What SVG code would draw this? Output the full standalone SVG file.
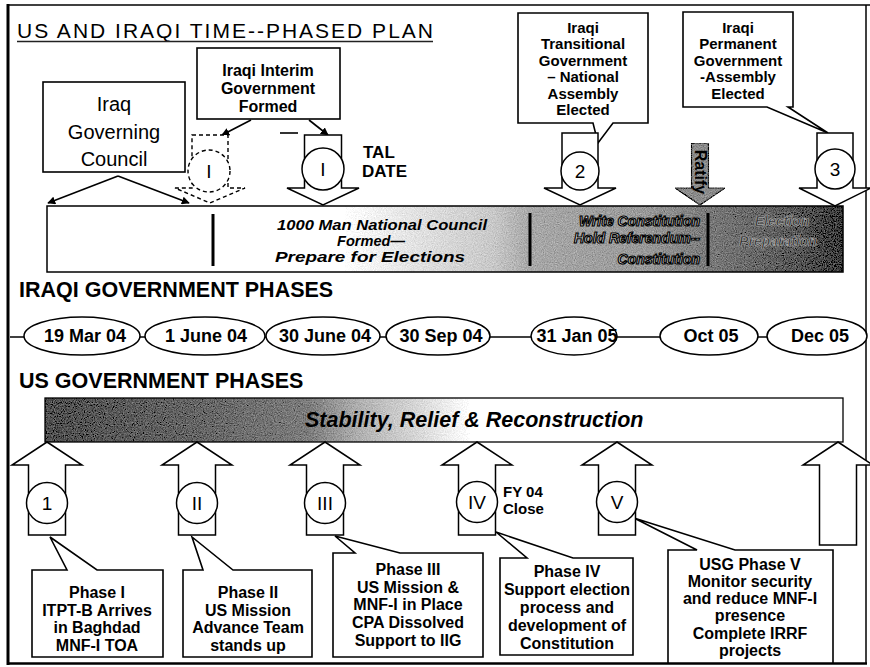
<svg xmlns="http://www.w3.org/2000/svg" width="870" height="667" viewBox="0 0 870 667">
  <defs>
    <style>
      text { font-family: "Liberation Sans", Arial, Helvetica, sans-serif; }
      .frame { fill: none; stroke: #000; }
      .box { fill: #fff; stroke: #000; stroke-width: 1.6; }
      .arr { fill: #fff; stroke: #000; stroke-width: 1.5; stroke-linejoin: miter; }
      .dash { fill: #fff; stroke: #000; stroke-width: 1.4; stroke-dasharray: 4 3; }
      .num { fill: #fff; stroke: #000; stroke-width: 1.5; }
      .numt { font-size: 19px; text-anchor: middle; fill: #000; }
      .lbl { font-size: 16px; font-weight: bold; text-anchor: middle; fill: #000; }
      .lbl15 { font-size: 15px; font-weight: bold; text-anchor: middle; fill: #000; }
      .side { font-weight: bold; text-anchor: start; fill: #000; }
      .head { font-size: 21.5px; font-weight: bold; fill: #000; }
      .date { font-size: 18px; font-weight: bold; text-anchor: middle; fill: #000; }
      .oval { fill: #fff; stroke: #000; stroke-width: 1.5; }
      .phase { font-size: 14px; font-weight: bold; font-style: italic; }
      .sep { stroke: #000; stroke-width: 3; }
      .conn { fill: none; stroke: #000; stroke-width: 1.6; }
    </style>
    <linearGradient id="iraqiGrad" x1="0" y1="0" x2="1" y2="0">
      <stop offset="0" stop-color="#ffffff"/>
      <stop offset="0.12" stop-color="#e6e6e6"/>
      <stop offset="0.3" stop-color="#c8c8c8"/>
      <stop offset="0.37" stop-color="#a8a8a8"/>
      <stop offset="0.6" stop-color="#9a9a9a"/>
      <stop offset="0.73" stop-color="#7a7a7a"/>
      <stop offset="0.9" stop-color="#5a5a5a"/>
      <stop offset="1" stop-color="#3a3a3a"/>
    </linearGradient>
    <linearGradient id="usGrad" x1="0" y1="0" x2="1" y2="0">
      <stop offset="0" stop-color="#505050"/>
      <stop offset="0.35" stop-color="#656565"/>
      <stop offset="0.62" stop-color="#7c7c7c"/>
      <stop offset="0.75" stop-color="#b4b4b4"/>
      <stop offset="0.88" stop-color="#d8d8d8"/>
      <stop offset="1" stop-color="#ffffff"/>
    </linearGradient>
    <filter id="grain" x="0" y="0" width="100%" height="100%">
      <feTurbulence type="fractalNoise" baseFrequency="0.9" numOctaves="2" seed="4" result="n"/>
      <feColorMatrix in="n" type="matrix" values="0.33 0.33 0.33 0 0  0.33 0.33 0.33 0 0  0.33 0.33 0.33 0 0  0 0 0 0 1" result="g"/>
      <feComposite in="SourceGraphic" in2="g" operator="arithmetic" k1="0" k2="1" k3="0.7" k4="-0.35" result="m"/>
      <feComposite in="m" in2="SourceGraphic" operator="in"/>
    </filter>
    <marker id="head" viewBox="0 0 10 10" refX="9" refY="5" markerWidth="8" markerHeight="8" markerUnits="userSpaceOnUse" orient="auto">
      <path d="M0,0 L10,5 L0,10 Z" fill="#000"/>
    </marker>
  </defs>

  <rect width="870" height="667" fill="#fff"/>

  <!-- outer frame -->
  <g id="frame">
    <line x1="8" y1="5" x2="870" y2="5" class="frame" stroke-width="1.5"/>
    <line x1="8" y1="4" x2="8" y2="665" class="frame" stroke-width="3"/>
    <line x1="866" y1="5" x2="866" y2="664" class="frame" stroke-width="1.5"/>
    <line x1="7" y1="663.5" x2="867" y2="663.5" class="frame" stroke-width="2.5"/>
  </g>

  <!-- headings -->
  <g id="title">
    <text x="17" y="38" font-size="21px" textLength="416" lengthAdjust="spacing">US AND IRAQI TIME--PHASED PLAN</text>
    <line x1="17" y1="41.5" x2="433" y2="41.5" stroke="#222" stroke-width="1.5"/>
  </g>
  <text id="iraqi-heading" class="head" x="19" y="297">IRAQI GOVERNMENT PHASES</text>
  <text id="us-heading" class="head" x="19" y="388">US GOVERNMENT PHASES</text>

  <!-- Iraqi phase bar -->
  <g id="iraqi-bar">
    <rect x="47" y="206" width="298" height="66" fill="#fff"/>
    <rect x="345" y="206" width="498" height="66" fill="url(#iraqiGrad)" filter="url(#grain)"/>
    <rect x="47" y="206" width="796" height="66" fill="none" stroke="#000" stroke-width="1.5"/>
    <line class="sep" x1="213" y1="214" x2="213" y2="266"/>
    <line class="sep" x1="530" y1="213" x2="530" y2="266"/>
    <line class="sep" x1="708" y1="213" x2="708" y2="266"/>
    <text class="phase" x="277" y="230" textLength="210" lengthAdjust="spacingAndGlyphs">1000 Man National Council</text>
    <text class="phase" x="337" y="246" textLength="68" lengthAdjust="spacingAndGlyphs">Formed—</text>
    <text class="phase" x="275" y="262" textLength="190" lengthAdjust="spacingAndGlyphs">Prepare for Elections</text>
    <g fill="#eeeeee" stroke="#000" stroke-width="1.2">
      <text class="phase" x="700" y="226" text-anchor="end" font-size="16px">Write Constitution</text>
      <text class="phase" x="700" y="243" text-anchor="end" font-size="16px">Hold Referendum--</text>
      <text class="phase" x="700" y="264" text-anchor="end" font-size="16px">Constitution</text>
    </g>
    <g fill="#2e2e2e" stroke="#a8a8a8" stroke-width="0.7">
      <text class="phase" x="782" y="226" text-anchor="middle" font-size="16px">Election</text>
      <text class="phase" x="778" y="246" text-anchor="middle" font-size="16px">Preparation</text>
    </g>
  </g>

  <!-- US phase bar -->
  <g id="us-bar">
    <rect x="45" y="398" width="425" height="44" fill="url(#usGrad)" filter="url(#grain)"/>
    <rect x="470" y="398" width="373" height="44" fill="#fff"/>
    <rect x="45" y="398" width="798" height="44" fill="none" stroke="#000" stroke-width="1.3"/>
    <text x="305" y="427" font-size="21.5px" font-weight="bold" font-style="italic">Stability, Relief &amp; Reconstruction</text>
  </g>

  <!-- connectors -->
  <g id="connectors">
    <line class="conn" x1="10" y1="337" x2="866" y2="337" stroke-width="2.5"/>
    <line class="conn" x1="118" y1="176" x2="48" y2="203" marker-end="url(#head)"/>
    <line class="conn" x1="118" y1="176" x2="189" y2="203" marker-end="url(#head)"/>
    <line class="conn" x1="251" y1="120" x2="222" y2="135" marker-end="url(#head)"/>
    <line class="conn" x1="309" y1="120" x2="328" y2="135" marker-end="url(#head)"/>
    <line class="conn" x1="280" y1="133" x2="298" y2="133"/>
  </g>

  <!-- top nodes -->
  <g id="node-governing-council">
    <rect class="box" x="43" y="82" width="142" height="90" stroke-width="2"/>
    <text x="114" y="111" font-size="20px" text-anchor="middle">Iraq</text>
    <text x="114" y="139" font-size="20px" text-anchor="middle">Governing</text>
    <text x="114" y="166" font-size="20px" text-anchor="middle">Council</text>
  </g>

  <g id="node-interim">
    <rect class="box" x="197" y="48" width="143" height="71" stroke-width="2"/>
    <text class="lbl" x="268" y="76" font-size="17px">Iraqi Interim</text>
    <text class="lbl" x="268" y="94" font-size="17px">Government</text>
    <text class="lbl" x="268" y="112" font-size="17px">Formed</text>
  </g>

  <g id="node-dashed-I">
    <polygon class="dash" points="192,135 228,135 228,188 245,188 210,203 175,188 192,188"/>
    <circle class="dash" cx="209" cy="171" r="21"/>
    <text class="numt" x="209" y="178">I</text>
  </g>

  <g id="node-tal">
    <polygon class="arr" points="304.5,135 341.5,135 341.5,188 359,188 323,205 287,188 304.5,188"/>
    <circle class="num" cx="323" cy="169" r="21"/>
    <text class="numt" x="323" y="176">I</text>
    <text class="side" x="363" y="158" font-size="17px">TAL</text>
    <text class="side" x="362" y="177" font-size="17px">DATE</text>
  </g>

  <g id="node-transitional">
    <path class="box" d="M518,13 H648 V123 H613 L598,143 L593,123 H518 Z"/>
    <text class="lbl15" x="583" y="33">Iraqi</text>
    <text class="lbl15" x="583" y="49">Transitional</text>
    <text class="lbl15" x="583" y="66">Government</text>
    <text class="lbl15" x="583" y="82">– National</text>
    <text class="lbl15" x="583" y="99">Assembly</text>
    <text class="lbl15" x="583" y="115">Elected</text>
  </g>
  <g id="node-2">
    <polygon class="arr" points="562,133 598,133 598,188 616,188 580,205 544,188 562,188"/>
    <circle class="num" cx="580" cy="171" r="19"/>
    <text class="numt" x="580" y="178">2</text>
  </g>

  <g id="node-ratify">
    <polygon points="691.5,143 708.5,143 708.5,188 725,188 700,205 675,188 691.5,188" fill="#8c8c8c" stroke="#222" stroke-width="1.2" filter="url(#grain)"/>
    <text x="0" y="0" font-size="16px" font-weight="bold" text-anchor="middle" fill="#000" transform="translate(694.5,172) rotate(90)">Ratify</text>
  </g>

  <g id="node-permanent">
    <path class="box" d="M683,12 H793 V107 H788 L828,133 L767,107 H683 Z"/>
    <text class="lbl15" x="738" y="33">Iraqi</text>
    <text class="lbl15" x="738" y="49">Permanent</text>
    <text class="lbl15" x="738" y="66">Government</text>
    <text class="lbl15" x="738" y="82">-Assembly</text>
    <text class="lbl15" x="738" y="99">Elected</text>
  </g>
  <g id="node-3">
    <polygon class="arr" points="817,133 853,133 853,188 871,188 835,206 799,188 817,188"/>
    <circle class="num" cx="835" cy="169" r="20"/>
    <text class="numt" x="835" y="176">3</text>
  </g>

  <!-- date milestones -->
  <g id="dates">
    <g id="date-19mar04"><ellipse class="oval" cx="82" cy="336" rx="58" ry="19"/><text class="date" x="85" y="342">19 Mar 04</text></g>
    <g id="date-1jun04"><ellipse class="oval" cx="205" cy="336" rx="60" ry="19"/><text class="date" x="206" y="342">1 June 04</text></g>
    <g id="date-30jun04"><ellipse class="oval" cx="323" cy="336" rx="57" ry="19"/><text class="date" x="325" y="342">30 June 04</text></g>
    <g id="date-30sep04"><ellipse class="oval" cx="438" cy="336" rx="52" ry="19"/><text class="date" x="441" y="342">30 Sep 04</text></g>
    <g id="date-31jan05"><ellipse class="oval" cx="574" cy="336" rx="43" ry="19"/><text class="date" x="577" y="342">31 Jan 05</text></g>
    <g id="date-oct05"><ellipse class="oval" cx="709" cy="336" rx="49" ry="19"/><text class="date" x="711" y="342">Oct 05</text></g>
    <g id="date-dec05"><ellipse class="oval" cx="817" cy="336" rx="50" ry="19"/><text class="date" x="820" y="342">Dec 05</text></g>
  </g>

  <!-- US phase callouts -->
  <g id="node-phase-1">
    <path class="box" d="M32,570 H67 L50,537 L97,570 H163 V657 H32 Z"/>
    <text class="lbl" x="97" y="598">Phase I</text>
    <text class="lbl" x="97" y="616">ITPT-B Arrives</text>
    <text class="lbl" x="97" y="633">in Baghdad</text>
    <text class="lbl" x="97" y="651">MNF-I TOA</text>
    <polygon class="arr" points="47,442 82,465 65.5,465 65.5,535 28.5,535 28.5,465 12,465"/>
    <circle class="num" cx="47" cy="503" r="20.5"/>
    <text class="numt" x="47" y="510">1</text>
  </g>

  <g id="node-phase-2">
    <path class="box" d="M183,570 H203 L192,537 L233,570 H312 V657 H183 Z"/>
    <text class="lbl" x="248" y="598">Phase II</text>
    <text class="lbl" x="248" y="616">US Mission</text>
    <text class="lbl" x="248" y="633">Advance Team</text>
    <text class="lbl" x="248" y="651">stands up</text>
    <polygon class="arr" points="197,442 232,465 215.5,465 215.5,535 178.5,535 178.5,465 162,465"/>
    <circle class="num" cx="197" cy="503" r="20.5"/>
    <text class="numt" x="197" y="510">II</text>
  </g>

  <g id="node-phase-3">
    <path class="box" d="M333,553 H355 L335,536 L400,553 H483 V657 H333 Z"/>
    <text class="lbl" x="408" y="575">Phase III</text>
    <text class="lbl" x="408" y="593">US Mission &amp;</text>
    <text class="lbl" x="408" y="610">MNF-I in Place</text>
    <text class="lbl" x="408" y="628">CPA Dissolved</text>
    <text class="lbl" x="408" y="646">Support to IIG</text>
    <polygon class="arr" points="325,442 360,465 343.5,465 343.5,535 306.5,535 306.5,465 290,465"/>
    <circle class="num" cx="325" cy="503" r="20.5"/>
    <text class="numt" x="325" y="510">III</text>
  </g>

  <g id="node-phase-4">
    <path class="box" d="M500,558 H527 L496,532 L573,558 H633 V655 H500 Z"/>
    <text class="lbl" x="567" y="577">Phase IV</text>
    <text class="lbl" x="567" y="595">Support election</text>
    <text class="lbl" x="567" y="613">process and</text>
    <text class="lbl" x="567" y="631">development of</text>
    <text class="lbl" x="567" y="649">Constitution</text>
    <polygon class="arr" points="477,442 512,465 495.5,465 495.5,535 458.5,535 458.5,465 442,465"/>
    <circle class="num" cx="477" cy="502" r="20.5"/>
    <text class="numt" x="477" y="509">IV</text>
    <text class="side" x="503" y="497" font-size="15px">FY 04</text>
    <text class="side" x="503" y="514" font-size="15px">Close</text>
  </g>

  <g id="node-phase-5">
    <path class="box" d="M668,550 H697 L634,518 L735,550 H833 V663 H668 Z"/>
    <text class="lbl" x="750" y="570">USG Phase V</text>
    <text class="lbl" x="750" y="587">Monitor security</text>
    <text class="lbl" x="750" y="604">and reduce MNF-I</text>
    <text class="lbl" x="750" y="621">presence</text>
    <text class="lbl" x="750" y="639">Complete IRRF</text>
    <text class="lbl" x="750" y="656">projects</text>
    <polygon class="arr" points="617,442 652,465 635.5,465 635.5,535 598.5,535 598.5,465 582,465"/>
    <circle class="num" cx="617" cy="502" r="20.5"/>
    <text class="numt" x="617" y="509">V</text>
  </g>

  <g id="node-end-arrow">
    <polygon class="arr" points="838,442 873,465 856.5,465 856.5,545 819.5,545 819.5,465 803,465"/>
  </g>
</svg>
